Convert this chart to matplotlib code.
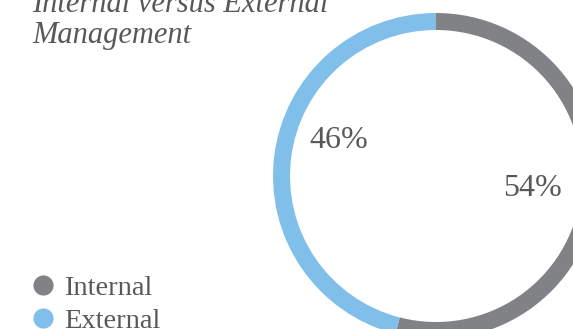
import matplotlib.pyplot as plt
import numpy as np
from matplotlib.lines import Line2D

# dati
categorie = ['Internal', 'External']
quote = [54, 46]
colori = ['#808285', '#80bfea']
titolo = ['Internal versus External', 'Management']

grigio_testo = '#58585b'
serif = ['Liberation Serif', 'DejaVu Serif']

W, H = 573, 329
fig = plt.figure(figsize=(W / 100, H / 100), dpi=100)
ax = fig.add_axes([0, 0, 1, 1])

# ciambella (coordinate in pixel, origine in basso a sinistra)
cx, cy, r = 436, H - 176, 163
wedges, _ = ax.pie(quote, colors=colori, startangle=90, counterclock=False,
                   center=(cx, cy), radius=r, frame=True,
                   wedgeprops=dict(width=17, linewidth=0))

# etichette percentuali
ang_lab = [-7.6, 160]
r_lab = [97, 104]
for q, a, rr in zip(quote, ang_lab, r_lab):
    t = np.deg2rad(a)
    ax.text(cx + rr * np.cos(t), cy + rr * np.sin(t), f'{q}%',
            ha='center', va='center', fontsize=23, color=grigio_testo,
            family=serif)

ax.set_xlim(0, W)
ax.set_ylim(0, H)
ax.set_aspect('equal')
ax.axis('off')

# titolo
fig.text(32 / W, 1 - 12 / H, titolo[0], fontsize=22, style='italic',
         color=grigio_testo, family=serif, va='baseline')
fig.text(32 / W, 1 - 43 / H, titolo[1], fontsize=22, style='italic',
         color=grigio_testo, family=serif, va='baseline')

# legenda
maniglie = [Line2D([], [], marker='o', linestyle='', markersize=14.5,
                   markerfacecolor=c, markeredgewidth=0) for c in colori]
leg = ax.legend(maniglie, categorie, loc='lower left',
                bbox_to_anchor=(17 / W, -16 / H), frameon=False,
                prop={'family': serif, 'size': 20.5}, labelcolor=grigio_testo,
                handlelength=1.0, handletextpad=0.25, labelspacing=0.25,
                borderaxespad=0)

fig.savefig('out.png', dpi=100)
